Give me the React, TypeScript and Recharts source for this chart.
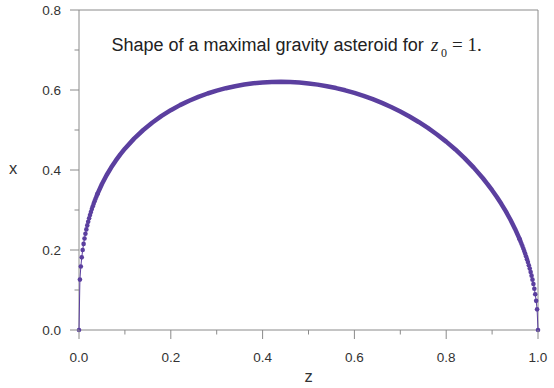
import React from 'react';
import { ScatterChart, Scatter, XAxis, YAxis, ReferenceLine, Customized } from 'recharts';

const PURPLE = '#5b3f9f';
const AXIS = '#8a8a8a';
const TXT = '#333333';
const SANS = '"Liberation Sans", Arial, Helvetica, sans-serif';
const SERIF = '"Liberation Serif", "Times New Roman", serif';

// left tip (separate dots)
const leftZ = [0, 0.002, 0.004, 0.006, 0.008, 0.01, 0.012, 0.014, 0.016, 0.018, 0.02, 0.022, 0.024, 0.026, 0.028, 0.03, 0.032, 0.034, 0.036, 0.038, 0.04];
const leftX = [0, 0.12598, 0.15869, 0.18161, 0.19984, 0.21521, 0.22863, 0.2406, 0.25148, 0.26145, 0.27071, 0.27933, 0.28745, 0.29511, 0.30237, 0.30927, 0.31586, 0.32217, 0.32823, 0.33405, 0.33965];

// body of the curve (dots merge into a band)
const bodyZ = [0.04, 0.05, 0.06, 0.07, 0.08, 0.09, 0.1, 0.12, 0.14, 0.16, 0.18, 0.2, 0.22, 0.24, 0.26, 0.28, 0.3, 0.32, 0.34, 0.36, 0.38, 0.4, 0.42, 0.44, 0.46, 0.48, 0.5, 0.52, 0.54, 0.56, 0.58, 0.6, 0.62, 0.64, 0.66, 0.68, 0.7, 0.72, 0.74, 0.76, 0.78, 0.8, 0.82, 0.84, 0.86, 0.88, 0.89, 0.9, 0.91, 0.92, 0.93, 0.94, 0.95, 0.96];
const bodyX = [0.33965, 0.36499, 0.38686, 0.40614, 0.4234, 0.43901, 0.45326, 0.47843, 0.50002, 0.51877, 0.53516, 0.54955, 0.56217, 0.57324, 0.58289, 0.59126, 0.59845, 0.60452, 0.60954, 0.61356, 0.61664, 0.61877, 0.62003, 0.6204, 0.61991, 0.61858, 0.61641, 0.6134, 0.60953, 0.60482, 0.59924, 0.59277, 0.58541, 0.5771, 0.56785, 0.55758, 0.54623, 0.53378, 0.52012, 0.50517, 0.48882, 0.47092, 0.45131, 0.42973, 0.40588, 0.37934, 0.36491, 0.34953, 0.33311, 0.31549, 0.29643, 0.27566, 0.25274, 0.22705];

// right tip (separate dots)
const rightZ = [0.96, 0.962, 0.964, 0.966, 0.968, 0.97, 0.972, 0.974, 0.976, 0.978, 0.98, 0.982, 0.984, 0.986, 0.988, 0.99, 0.992, 0.994, 0.996, 0.998, 1.0];
const rightX = [0.22705, 0.2215, 0.21577, 0.20987, 0.20378, 0.19748, 0.19095, 0.18416, 0.17709, 0.16969, 0.16193, 0.15375, 0.14508, 0.13583, 0.12586, 0.11499, 0.10294, 0.08922, 0.07291, 0.0516, 0];

const xTicks = [0, 0.1, 0.2, 0.3, 0.4, 0.5, 0.6, 0.7, 0.8, 0.9, 1.0];
const yTicks = [0, 0.1, 0.2, 0.3, 0.4, 0.5, 0.6, 0.7, 0.8];

const zip = (zs: number[], xs: number[]) => zs.map((z, i) => ({ z, x: xs[i] }));
const leftData = zip(leftZ, leftX);
const bodyData = zip(bodyZ, bodyX);
const rightData = zip(rightZ, rightX);

const isMajor = (v: number) => Math.round(v * 10) % 2 === 0;

const XTick = (props: any) => {
  const { x, y, payload } = props;
  const v = payload.value as number;
  const major = isMajor(v);
  return (
    <g>
      <line x1={x} x2={x} y1={y} y2={y + (major ? 9 : 4.5)} stroke={AXIS} strokeWidth={1} />
      {major && (
        <text x={x} y={y + 31.5} textAnchor="middle" fontSize={13.5} fill={TXT} fontFamily={SANS}>
          {v.toFixed(1)}
        </text>
      )}
    </g>
  );
};

const YTick = (props: any) => {
  const { x, y, payload } = props;
  const v = payload.value as number;
  const major = isMajor(v);
  return (
    <g>
      <line x1={x - (major ? 9 : 4.5)} x2={x} y1={y} y2={y} stroke={AXIS} strokeWidth={1} />
      {major && (
        <text x={x - 18} y={y + 4.8} textAnchor="end" fontSize={13.5} fill={TXT} fontFamily={SANS}>
          {v.toFixed(1)}
        </text>
      )}
    </g>
  );
};

const Dot = (p: any) => <circle cx={p.cx} cy={p.cy} r={2.3} fill={PURPLE} />;
const NoDot = () => <g />;

const Overlay = () => (
  <g>
    <text x={111.5} y={51} fontSize={18} fill="#222" fontFamily={SANS}>
      Shape of a maximal gravity asteroid for
    </text>
    <text x={431} y={51} fontSize={19} fontStyle="italic" fontFamily={SERIF} fill="#222">z</text>
    <text x={441} y={57} fontSize={12} fontFamily={SERIF} fill="#222">0</text>
    <text x={452} y={51} fontSize={19} fontFamily={SERIF} fill="#222">= 1.</text>
    <text x={308.5} y={382} textAnchor="middle" fontSize={16.5} fill={TXT} fontFamily={SANS}>z</text>
    <text x={13} y={174} textAnchor="middle" fontSize={16.5} fill={TXT} fontFamily={SANS}>x</text>
  </g>
);

export default function App() {
  return (
    <div style={{ position: 'absolute', left: 0, top: 0, width: 554, height: 388, background: '#fff' }}>
      <ScatterChart width={554} height={388} margin={{ top: 10, right: 16, bottom: 0, left: 0 }}>
        <XAxis
          type="number"
          dataKey="z"
          domain={[0, 1]}
          ticks={xTicks}
          height={58}
          tickSize={0}
          tickMargin={0}
          tickLine={false}
          axisLine={{ stroke: AXIS }}
          tick={<XTick />}
          interval={0}
        />
        <YAxis
          type="number"
          dataKey="x"
          domain={[0, 0.8]}
          ticks={yTicks}
          width={79}
          tickSize={0}
          tickMargin={0}
          tickLine={false}
          axisLine={{ stroke: AXIS }}
          tick={<YTick />}
          interval={0}
        />
        <ReferenceLine y={0.8} stroke={AXIS} />
        <ReferenceLine x={1} stroke={AXIS} />
        <Scatter
          data={bodyData}
          line={{ stroke: PURPLE, strokeWidth: 4.5, strokeLinejoin: 'round', strokeLinecap: 'round' }}
          lineType="joint"
          shape={NoDot}
          isAnimationActive={false}
        />
        <Scatter
          data={leftData}
          line={{ stroke: PURPLE, strokeWidth: 1 }}
          lineType="joint"
          shape={Dot}
          fill={PURPLE}
          isAnimationActive={false}
        />
        <Scatter
          data={rightData}
          line={{ stroke: PURPLE, strokeWidth: 1 }}
          lineType="joint"
          shape={Dot}
          fill={PURPLE}
          isAnimationActive={false}
        />
        <Customized component={Overlay} />
      </ScatterChart>
    </div>
  );
}
